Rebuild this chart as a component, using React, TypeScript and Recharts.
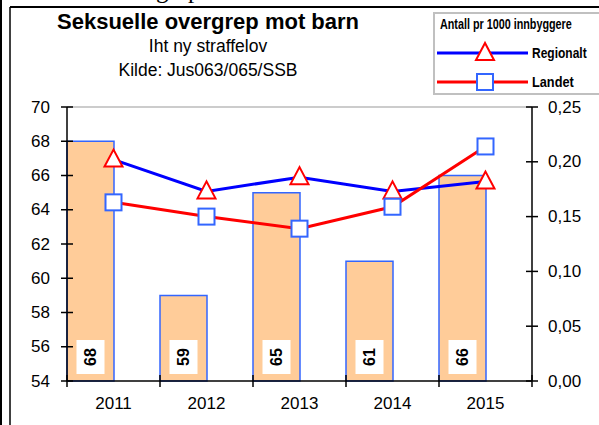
import { ComposedChart, Bar, Line, XAxis, YAxis, LabelList, ReferenceLine } from "recharts";

const years = ["2011", "2012", "2013", "2014", "2015"];
const antall = [68, 59, 65, 61, 66];
const regionalt = [0.202, 0.173, 0.186, 0.173, 0.182];
const landet = [0.163, 0.15, 0.139, 0.159, 0.214];

const leftTicks = [54, 56, 58, 60, 62, 64, 66, 68, 70];
const rightTicks = [0, 0.05, 0.1, 0.15, 0.2, 0.25];

const data = years.map((year, i) => ({
  year,
  antall: antall[i],
  tom: null,
  regionalt: regionalt[i],
  landet: landet[i],
}));

const FONT = "Arial, 'Liberation Sans', sans-serif";
const LEFT_X = 67;
const RIGHT_X = 532;
const BOTTOM_Y = 381;
const BAND = (RIGHT_X - LEFT_X) / years.length;

const LeftTick = ({ y, payload }: any) => (
  <g>
    <line x1={LEFT_X - 6} x2={LEFT_X + 6} y1={y} y2={y} stroke="#000" strokeWidth={1.5} />
    <text x={LEFT_X - 17} y={y} textAnchor="end" dominantBaseline="central" fontSize={17} fontFamily={FONT} fill="#000">
      {payload.value}
    </text>
  </g>
);

const RightTick = ({ y, payload }: any) => (
  <g>
    <line x1={RIGHT_X - 6} x2={RIGHT_X + 6} y1={y} y2={y} stroke="#000" strokeWidth={1.5} />
    <text x={RIGHT_X + 16} y={y} textAnchor="start" dominantBaseline="central" fontSize={17} fontFamily={FONT} fill="#000">
      {payload.value.toFixed(2).replace(".", ",")}
    </text>
  </g>
);

const YearTick = ({ x, index, payload }: any) => {
  const left = x - BAND / 2;
  return (
    <g>
      <line x1={left} x2={left} y1={BOTTOM_Y - 6} y2={BOTTOM_Y + 6} stroke="#000" strokeWidth={1.5} />
      {index === years.length - 1 && (
        <line x1={x + BAND / 2} x2={x + BAND / 2} y1={BOTTOM_Y - 6} y2={BOTTOM_Y + 6} stroke="#000" strokeWidth={1.5} />
      )}
      <text x={x} y={BOTTOM_Y + 22} textAnchor="middle" dominantBaseline="central" fontSize={17} fontFamily={FONT} fill="#000">
        {payload.value}
      </text>
    </g>
  );
};

const Triangle = ({ cx, cy }: any) => {
  if (cx == null || cy == null) return null;
  return (
    <polygon
      points={`${cx},${cy - 10} ${cx - 9},${cy + 7} ${cx + 9},${cy + 7}`}
      fill="#fff"
      stroke="#FF0000"
      strokeWidth={2}
    />
  );
};

const Square = ({ cx, cy }: any) => {
  if (cx == null || cy == null) return null;
  return <rect x={cx - 8} y={cy - 8} width={16} height={16} fill="#fff" stroke="#3366FF" strokeWidth={2} />;
};

const BarLabel = ({ x, y, width, height, value }: any) => {
  const cx = x + width / 2;
  const bottom = y + height;
  const cy = bottom - 24;
  return (
    <g>
      <rect x={cx - 14} y={cy - 17} width={28} height={34} fill="#fff" />
      <text
        x={cx}
        y={cy}
        transform={`rotate(-90 ${cx} ${cy})`}
        textAnchor="middle"
        dominantBaseline="central"
        fontSize={16}
        fontWeight="bold"
        fontFamily={FONT}
        fill="#000"
      >
        {value}
      </text>
    </g>
  );
};

// squeezed legend text, like the original's cramped legend
const Squeezed = ({ x, y, sx, children }: any) => (
  <text
    transform={`translate(${x} ${y}) scale(${sx} 1)`}
    dominantBaseline="central"
    fontSize={15}
    fontWeight="bold"
    fontFamily={FONT}
    fill="#000"
  >
    {children}
  </text>
);

export default function App() {
  return (
    <div style={{ position: "absolute", left: 0, top: 0, width: 599, height: 425, overflow: "hidden", background: "#fff" }}>
      <div
        style={{
          position: "absolute",
          left: 10,
          top: -24,
          fontFamily: "'Liberation Serif', 'Times New Roman', serif",
          fontSize: 25,
          whiteSpace: "nowrap",
        }}
      >
        Seksuelle overgrep mot barn
      </div>
      <svg width={599} height={425} style={{ position: "absolute", left: 0, top: 0 }}>
        <line x1={1} x2={1} y1={0} y2={425} stroke="#000" strokeWidth={2} />
        <line x1={10} x2={599} y1={7} y2={7} stroke="#000" strokeWidth={2} />
        <line x1={10} x2={10} y1={7} y2={425} stroke="#000" strokeWidth={1.5} />
      </svg>
      <div style={{ position: "absolute", left: 0, top: 0 }}>
        <ComposedChart
          width={599}
          height={425}
          data={data}
          margin={{ top: 107, right: 7, bottom: 14, left: 10 }}
          barCategoryGap={0}
          barGap={0}
        >
          <XAxis
            dataKey="year"
            xAxisId="x"
            height={30}
            axisLine={{ stroke: "#000", strokeWidth: 1.5 }}
            tickLine={false}
            tick={<YearTick />}
            interval={0}
          />
          <YAxis
            yAxisId="left"
            width={57}
            domain={[54, 70]}
            ticks={leftTicks}
            axisLine={{ stroke: "#000", strokeWidth: 1.5 }}
            tickLine={false}
            tick={<LeftTick />}
            interval={0}
          />
          <YAxis
            yAxisId="right"
            orientation="right"
            width={60}
            domain={[0, 0.25]}
            ticks={rightTicks}
            axisLine={{ stroke: "#000", strokeWidth: 1.5 }}
            tickLine={false}
            tick={<RightTick />}
            interval={0}
          />
          <ReferenceLine xAxisId="x" yAxisId="left" y={70} stroke="#999" strokeWidth={1} />
          <Bar xAxisId="x" yAxisId="left" dataKey="antall" fill="#FFCC99" stroke="#3366FF" strokeWidth={1.5} isAnimationActive={false}>
            <LabelList dataKey="antall" content={<BarLabel />} />
          </Bar>
          <Bar xAxisId="x" yAxisId="left" dataKey="tom" fill="none" isAnimationActive={false} />
          <Line
            xAxisId="x"
            yAxisId="right"
            dataKey="regionalt"
            stroke="#0000FF"
            strokeWidth={3}
            dot={<Triangle />}
            activeDot={false}
            isAnimationActive={false}
          />
          <Line
            xAxisId="x"
            yAxisId="right"
            dataKey="landet"
            stroke="#FF0000"
            strokeWidth={3}
            dot={<Square />}
            activeDot={false}
            isAnimationActive={false}
          />
        </ComposedChart>
      </div>
      <div
        style={{
          position: "absolute",
          left: 0,
          width: 416,
          top: 10,
          textAlign: "center",
          fontFamily: FONT,
          color: "#000",
        }}
      >
        <div style={{ fontSize: 22, fontWeight: "bold", lineHeight: "24px" }}>Seksuelle overgrep mot barn</div>
        <div style={{ fontSize: 17.5, lineHeight: "24px" }}>Iht ny straffelov</div>
        <div style={{ fontSize: 17.5, lineHeight: "24px" }}>Kilde: Jus063/065/SSB</div>
      </div>
      <svg width={599} height={425} style={{ position: "absolute", left: 0, top: 0, pointerEvents: "none" }}>
        <rect x={434} y={13} width={200} height={81} fill="#fff" stroke="#C0C0C0" strokeWidth={2} />
        <Squeezed x={440} y={24} sx={0.72}>Antall pr 1000 innbyggere</Squeezed>
        <line x1={437} x2={528} y1={53} y2={53} stroke="#0000FF" strokeWidth={3} />
        <Triangle cx={485} cy={53} />
        <Squeezed x={532} y={53} sx={0.8}>Regionalt</Squeezed>
        <line x1={437} x2={528} y1={82} y2={82} stroke="#FF0000" strokeWidth={3} />
        <Square cx={485} cy={82} />
        <Squeezed x={532} y={82} sx={0.85}>Landet</Squeezed>
      </svg>
    </div>
  );
}
